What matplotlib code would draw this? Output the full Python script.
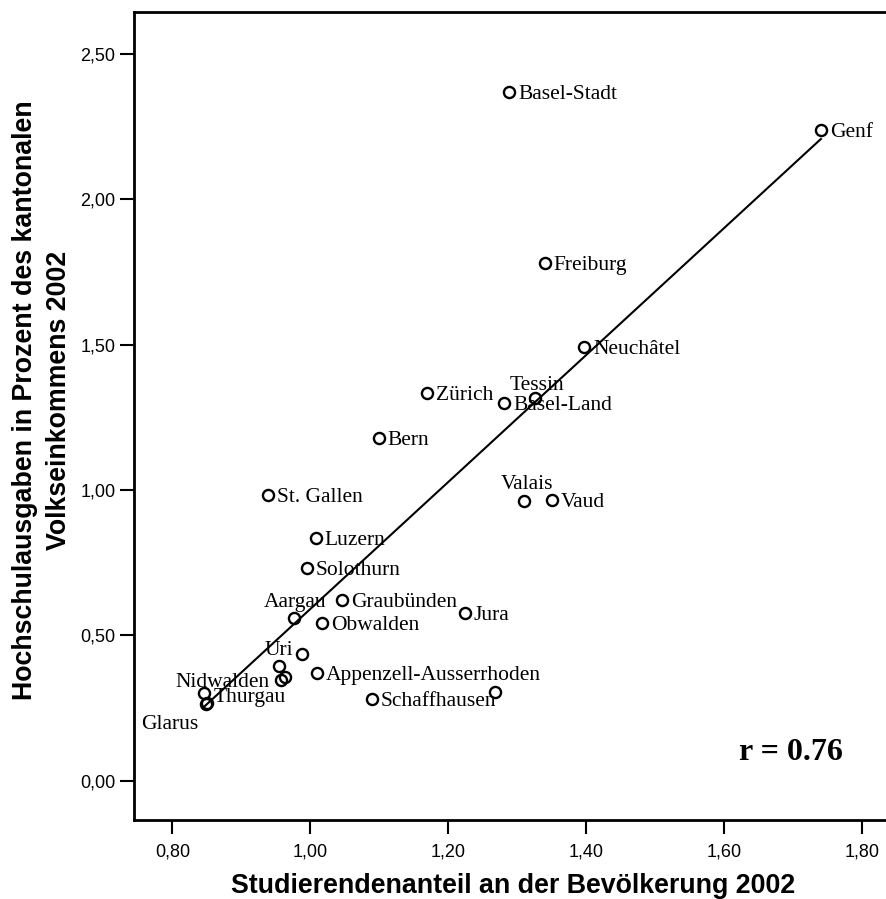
import numpy as np
import matplotlib
matplotlib.use("Agg")
import matplotlib.pyplot as plt
from matplotlib.ticker import FuncFormatter

# Kantone: Studierendenanteil (x) vs. Hochschulausgaben in % des Volkseinkommens (y)
cantons = ["Basel-Stadt", "Genf", "Freiburg", "Neuchâtel", "Tessin", "Basel-Land",
           "Zürich", "Bern", "St. Gallen", "Valais", "Vaud", "Luzern", "Solothurn",
           "Aargau", "Graubünden", "Obwalden", "Jura", "Uri", "", "", "",
           "Appenzell-Ausserrhoden", "Schaffhausen", "", "Nidwalden", "Thurgau", "Glarus"]
students = [1.288, 1.740, 1.340, 1.397, 1.326, 1.281,
            1.169, 1.099, 0.939, 1.309, 1.350, 1.008, 0.995,
            0.976, 1.046, 1.017, 1.224, 0.955, 0.988, 0.957, 0.963,
            1.010, 1.089, 1.268, 0.846, 0.850, 0.849]
spending = [2.369, 2.239, 1.780, 1.493, 1.316, 1.301,
            1.335, 1.178, 0.983, 0.963, 0.966, 0.834, 0.733,
            0.561, 0.622, 0.542, 0.576, 0.395, 0.436, 0.347, 0.358,
            0.370, 0.280, 0.306, 0.301, 0.268, 0.265]
r_text = "r = 0.76"

x_ticks = [0.8, 1.0, 1.2, 1.4, 1.6, 1.8]
y_ticks = [0.0, 0.5, 1.0, 1.5, 2.0, 2.5]

# label placement (pixel offsets), default: right of the point
label_pos = {
    "Tessin": (1.5, 15.5, "center"),
    "Valais": (3.5, 18.5, "center"),
    "Aargau": (1.5, 18, "center"),
    "Uri": (0, 18, "center"),
    "Nidwalden": (18.5, 13, "center"),
    "Thurgau": (7, 8, "left"),
    "Glarus": (-8, -18, "right"),
}

sans = ["Liberation Sans", "DejaVu Sans"]
serif = ["Liberation Serif", "DejaVu Serif"]

fig = plt.figure(figsize=(8.87, 8.99), dpi=100)
ax = fig.add_axes([0.1511, 0.0879, 0.8489, 0.8988])

x = np.array(students)
y = np.array(spending)

slope, icept = np.polyfit(x, y, 1)
xx = np.array([x.min(), x.max()])
ax.plot(xx, slope * xx + icept, color="black", lw=1.5, zorder=2)

ax.plot(x, y, "o", ms=8, mfc="none", mec="black", mew=1.7, zorder=3)

for name, xi, yi in zip(cantons, x, y):
    if not name:
        continue
    dx, dy, ha = label_pos.get(name, (9, 0, "left"))
    ax.annotate(name, (xi, yi), xytext=(dx, dy), textcoords="offset pixels",
                ha=ha, va="center_baseline", fontsize=15.5, family=serif)

ax.text(0.9416, 0.074, r_text, transform=ax.transAxes, ha="right", va="baseline",
        fontsize=23, fontweight="bold", family=serif)

ax.set_xlim(0.7445, 1.8358)
ax.set_ylim(-0.1352, 2.645)
ax.set_xticks(x_ticks)
ax.set_yticks(y_ticks)
comma = FuncFormatter(lambda v, p: f"{v:.2f}".replace(".", ","))
ax.xaxis.set_major_formatter(comma)
ax.yaxis.set_major_formatter(comma)

ax.tick_params(direction="out", length=10, width=1.5, labelsize=13)
ax.tick_params(axis="x", pad=7)
ax.tick_params(axis="y", pad=3.5)
for lab in ax.get_xticklabels() + ax.get_yticklabels():
    lab.set_family(sans)

for s in ["left", "bottom", "top"]:
    ax.spines[s].set_linewidth(2)
ax.spines["right"].set_visible(False)

fig.text(0.578, 0.007, "Studierendenanteil an der Bevölkerung 2002",
         ha="center", va="baseline", fontsize=19.3, fontweight="bold", family=sans)
fig.text(0.047, 0.555, "Hochschulausgaben in Prozent des kantonalen\nVolkseinkommens 2002",
         ha="center", va="center", rotation=90, fontsize=19.3, fontweight="bold",
         family=sans, linespacing=1.4, multialignment="center")

fig.savefig("out.png", dpi=100)
